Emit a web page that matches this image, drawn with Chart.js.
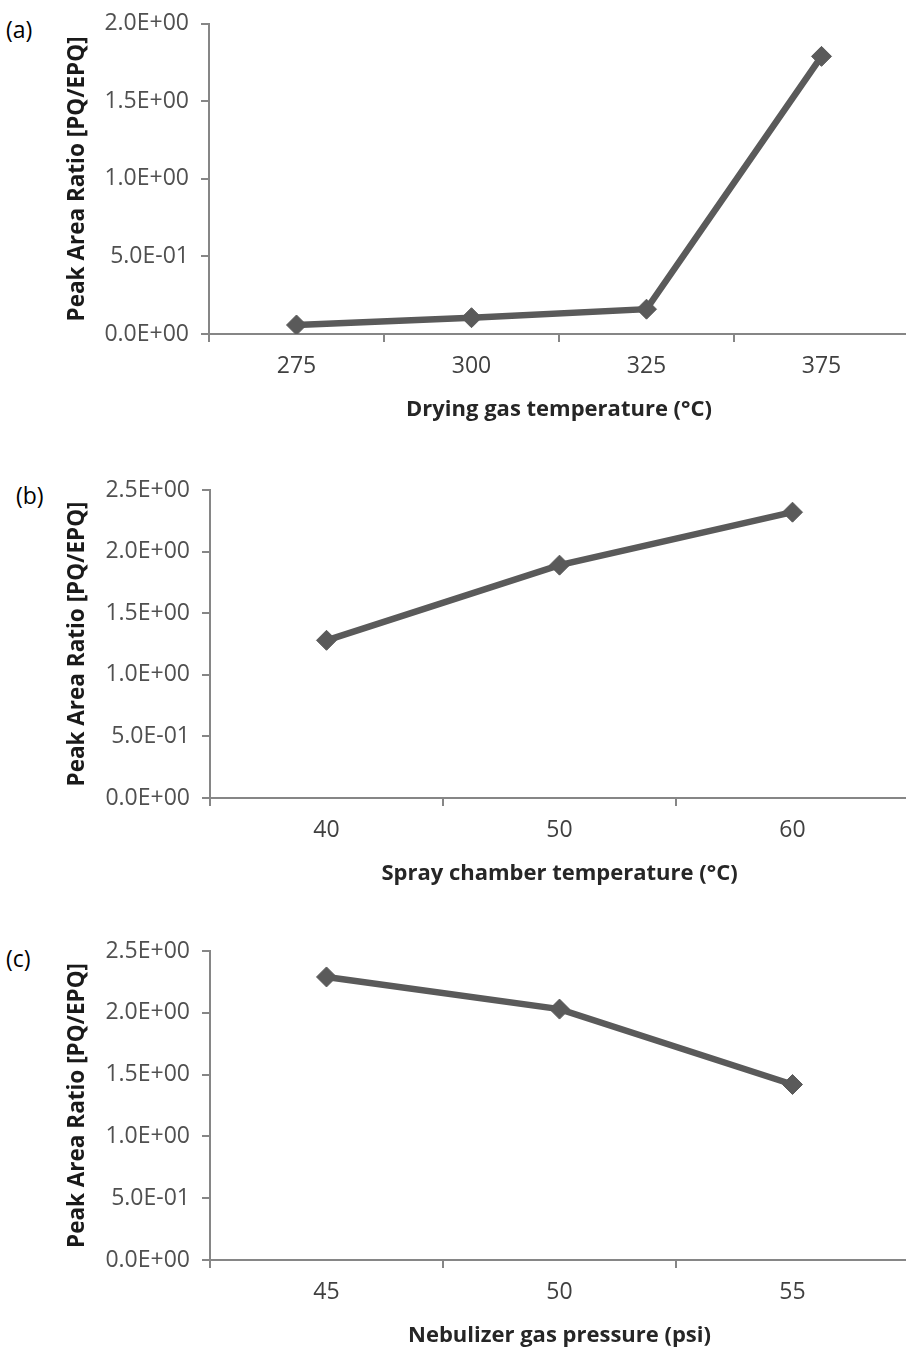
<!DOCTYPE html>
<html>
<head>
<meta charset="utf-8">
<script src="https://cdn.jsdelivr.net/npm/chart.js@4/dist/chart.umd.min.js"></script>
<style>
  html, body { margin: 0; padding: 0; background: #fff; width: 906px; height: 1347px; overflow: hidden; position: relative; }
  canvas { position: absolute; left: 0; }
  .panel { position: absolute; font-family: "Open Sans", sans-serif; font-size: 23px; color: #000; }
</style>
</head>
<body>
<div class="panel" style="left:6px; top:13px;">(a)</div>
<div class="panel" style="left:16px; top:479px;">(b)</div>
<div class="panel" style="left:6px; top:942px;">(c)</div>
<canvas id="cA" width="920" height="436" style="top:-2px;"></canvas>
<canvas id="cB" width="920" height="438" style="top:460px;"></canvas>
<canvas id="cC" width="920" height="440" style="top:920px;"></canvas>
<script>
// ---- Data ----
const yTitle = 'Peak Area Ratio [PQ/EPQ]';

const dryingTemps = ['275', '300', '325', '375'];
const dryingRatios = [0.058, 0.105, 0.16, 1.79];
const dryingTitle = 'Drying gas temperature (°C)';
const yTicksA = ['0.0E+00', '5.0E-01', '1.0E+00', '1.5E+00', '2.0E+00'];

const sprayTemps = ['40', '50', '60'];
const sprayRatios = [1.28, 1.89, 2.32];
const sprayTitle = 'Spray chamber temperature (°C)';

const nebPressures = ['45', '50', '55'];
const nebRatios = [2.29, 2.03, 1.42];
const nebTitle = 'Nebulizer gas pressure (psi)';

const yTicksBC = ['0.0E+00', '5.0E-01', '1.0E+00', '1.5E+00', '2.0E+00', '2.5E+00'];

// ---- Chart builder ----
const AXIS = '#868686';
const LINE = '#5a5a5a';
const FONT = '"Open Sans", sans-serif';

function makeChart(id, canvasTop, areaTop, areaBottom, axisLeft, areaRight, labels, values, yMax, yTicks, xTitle) {
  const canvas = document.getElementById(id);
  const W = canvas.width;
  new Chart(canvas, {
    type: 'line',
    data: {
      labels: labels,
      datasets: [{
        data: values,
        borderColor: LINE,
        backgroundColor: LINE,
        borderWidth: 6.5,
        pointStyle: 'rectRot',
        pointRadius: 10,
        pointBorderWidth: 1,
        pointBorderColor: LINE,
        pointBackgroundColor: LINE,
        tension: 0,
        fill: false
      }]
    },
    options: {
      responsive: false,
      animation: false,
      devicePixelRatio: 1,
      layout: { padding: { top: areaTop - canvasTop, right: W - areaRight, left: 0, bottom: 0 } },
      plugins: { legend: { display: false }, tooltip: { enabled: false } },
      scales: {
        x: {
          type: 'category',
          offset: true,
          grid: { offset: true, drawOnChartArea: false, drawTicks: true, tickLength: 8, color: AXIS, lineWidth: 2 },
          border: { display: true, color: AXIS, width: 2 },
          ticks: { color: '#404040', font: { family: FONT, size: 23 }, padding: 11, maxRotation: 0 },
          title: { display: true, text: xTitle, color: '#262626', font: { family: FONT, size: 22, weight: 'bold' }, padding: { top: 0, bottom: 11 } },
          afterFit: function(s) { s.height = 100; }
        },
        y: {
          min: 0, max: yMax,
          ticks: { stepSize: 0.5, color: '#505050', font: { family: FONT, size: 23 }, padding: 12,
                   callback: function(v, i) { return yTicks[i]; } },
          grid: { drawOnChartArea: false, drawTicks: true, tickLength: 8, color: AXIS, lineWidth: 2 },
          border: { display: true, color: AXIS, width: 2 },
          title: { display: true, text: yTitle, color: '#1a1a1a', font: { family: FONT, size: 22.5, weight: 'bold' }, padding: { top: 64, bottom: 0 } },
          afterFit: function(s) { s.width = axisLeft; }
        }
      }
    }
  });
}

makeChart('cA', -2, 23, 334, 209, 912, dryingTemps, dryingRatios, 2.0, yTicksA, dryingTitle);
makeChart('cB', 460, 490, 798, 210, 911, sprayTemps, sprayRatios, 2.5, yTicksBC, sprayTitle);
makeChart('cC', 920, 951, 1260, 210, 911, nebPressures, nebRatios, 2.5, yTicksBC, nebTitle);
</script>
</body>
</html>
